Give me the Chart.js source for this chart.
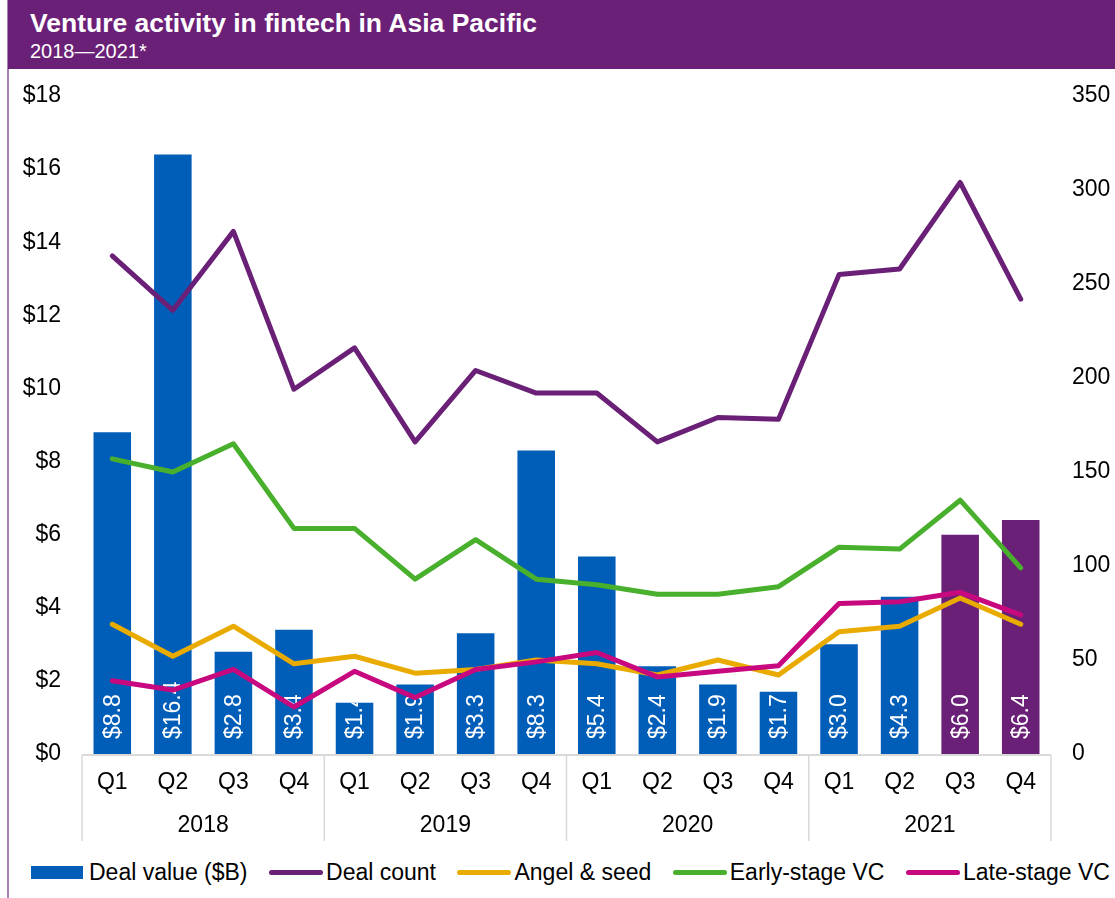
<!DOCTYPE html>
<html>
<head>
<meta charset="utf-8">
<script src="https://cdn.jsdelivr.net/npm/chart.js@4.4.1/dist/chart.umd.min.js"></script>
<style>
  html, body { margin: 0; padding: 0; background: #fff; }
  body { width: 1115px; height: 898px; position: relative; overflow: hidden; font-family: "Liberation Sans", Arial, sans-serif; }
  #faixa { position: absolute; left: 8px; top: 0; right: 0; height: 69px; background: #6B2077; color: #fff; }
  #faixa h1 { position: absolute; left: 22px; top: 8px; margin: 0; font-size: 26.5px; font-weight: bold; line-height: 30px; }
  #faixa p { position: absolute; left: 22px; top: 40px; margin: 0; font-size: 20px; line-height: 22px; }
  #borda { position: absolute; left: 7px; top: 0; width: 2px; height: 898px; background: #A77FB3; }
  #grafico { position: absolute; left: 0; top: 0; width: 1115px; height: 849px; }
  #legenda { position: absolute; left: 31px; right: 5px; top: 860px; height: 24px; display: flex; justify-content: space-between; align-items: center; font-size: 23px; color: #000; }
  #legenda .item { display: flex; align-items: center; white-space: nowrap; }
  #legenda .caixa { width: 52px; height: 13px; margin-right: 6px; }
  #legenda .linha { width: 54px; height: 5px; border-radius: 3px; margin-right: 3px; }
</style>
</head>
<body>
<div id="borda"></div>
<div id="faixa">
  <h1>Venture activity in fintech in Asia Pacific</h1>
  <p>2018—2021*</p>
</div>
<div id="grafico"><canvas id="chart"></canvas></div>
<div id="legenda"></div>

<script>
const quarters = ["Q1", "Q2", "Q3", "Q4", "Q1", "Q2", "Q3", "Q4", "Q1", "Q2", "Q3", "Q4", "Q1", "Q2", "Q3", "Q4"];
const years = ["2018", "2019", "2020", "2021"];

// $B por trimestre
const dealValue = [8.8, 16.4, 2.8, 3.4, 1.4, 1.9, 3.3, 8.3, 5.4, 2.4, 1.9, 1.7, 3.0, 4.3, 6.0, 6.4];
// contagens (eixo da direita)
const dealCount = [265, 236, 278, 194, 216, 166, 204, 192, 192, 166, 179, 178, 255, 258, 304, 242];
const angelSeed = [69, 52, 68, 48, 52, 43, 45, 50, 48, 42, 50, 42, 65, 68, 83, 69];
const earlyStage = [157, 150, 165, 120, 120, 93, 114, 93, 90, 85, 85, 89, 110, 109, 135, 99];
const lateStage = [39, 34, 45, 25, 44, 30, 45, 49, 54, 41, 44, 47, 80, 81, 86, 74];

const leftTicks = [0, 2, 4, 6, 8, 10, 12, 14, 16, 18];
const rightTicks = [0, 50, 100, 150, 200, 250, 300, 350];

const AZUL = "#005EB8";
const ROXO = "#6B2077";
const AMARELO = "#EAAB00";
const VERDE = "#48B02C";
const ROSA = "#C8087E";
const FONTE = "'Liberation Sans', Arial, sans-serif";

// os dois ultimos trimestres ficam em roxo
const barColors = dealValue.map((v, i) => i >= dealValue.length - 2 ? ROXO : AZUL);

// rotulos brancos verticais dentro das barras
const rotulosBarras = {
    id: "rotulosBarras",
    afterDatasetDraw(chart, args) {
        if (args.index !== 0) return;
        const ctx = chart.ctx;
        args.meta.data.forEach((bar, i) => {
            const p = bar.getProps(["x", "y", "base", "width"], true);
            ctx.save();
            ctx.beginPath();
            ctx.rect(p.x - p.width / 2, p.y, p.width, p.base - p.y);
            ctx.clip();
            ctx.translate(p.x, p.base - 15);
            ctx.rotate(-Math.PI / 2);
            ctx.fillStyle = "#fff";
            ctx.font = "23px " + FONTE;
            ctx.textAlign = "left";
            ctx.textBaseline = "middle";
            ctx.fillText("$" + dealValue[i].toFixed(1), 0, 1);
            ctx.restore();
        });
    }
};

// linha de base, divisorias e anos embaixo dos trimestres
const eixoAnos = {
    id: "eixoAnos",
    afterDraw(chart) {
        const { ctx, chartArea } = chart;
        const x = chart.scales.x;
        const base = chartArea.bottom + 1;
        const porAno = quarters.length / years.length;
        ctx.save();
        ctx.strokeStyle = "#D9D9D9";
        ctx.lineWidth = 2;
        ctx.beginPath();
        ctx.moveTo(chartArea.left, base);
        ctx.lineTo(chartArea.right, base);
        ctx.stroke();
        ctx.lineWidth = 1.5;
        ctx.beginPath();
        for (let g = 0; g <= years.length; g++) {
            let px;
            if (g === 0) px = chartArea.left;
            else if (g === years.length) px = chartArea.right;
            else px = (x.getPixelForValue(g * porAno - 1) + x.getPixelForValue(g * porAno)) / 2;
            ctx.moveTo(px, base);
            ctx.lineTo(px, base + 86);
        }
        ctx.stroke();
        ctx.fillStyle = "#000";
        ctx.font = "23px " + FONTE;
        ctx.textAlign = "center";
        ctx.textBaseline = "middle";
        years.forEach((ano, g) => {
            const a = x.getPixelForValue(g * porAno);
            const b = x.getPixelForValue(g * porAno + porAno - 1);
            ctx.fillText(ano, (a + b) / 2, 826);
        });
        ctx.restore();
    }
};

function linha(label, data, cor, ordem) {
    return {
        type: "line",
        label: label,
        data: data,
        yAxisID: "y1",
        borderColor: cor,
        backgroundColor: cor,
        borderWidth: 5,
        borderJoinStyle: "round",
        borderCapStyle: "round",
        pointRadius: 0,
        tension: 0,
        order: ordem
    };
}

const datasets = [
    {
        type: "bar",
        label: "Deal value ($B)",
        data: dealValue,
        yAxisID: "y",
        backgroundColor: barColors,
        barPercentage: 0.62,
        categoryPercentage: 1,
        order: 5
    },
    linha("Deal count", dealCount, ROXO, 4),
    linha("Angel & seed", angelSeed, AMARELO, 3),
    linha("Early-stage VC", earlyStage, VERDE, 2),
    linha("Late-stage VC", lateStage, ROSA, 1)
];

const ctx = document.getElementById("chart");
new Chart(ctx, {
    data: { labels: quarters, datasets: datasets },
    options: {
        responsive: true,
        maintainAspectRatio: false,
        animation: false,
        layout: { padding: { top: 96, left: 0, right: 0, bottom: 0 } },
        plugins: { legend: { display: false }, tooltip: { enabled: false } },
        scales: {
            x: {
                grid: { display: false, drawTicks: false },
                border: { display: false },
                ticks: { color: "#000", font: { family: FONTE, size: 23 }, padding: 15, maxRotation: 0, autoSkip: false },
                afterFit(s) { s.height = 95; }
            },
            y: {
                position: "left",
                min: 0,
                max: leftTicks[leftTicks.length - 1],
                grid: { display: false, drawTicks: false },
                border: { display: false },
                afterBuildTicks(s) { s.ticks = leftTicks.map(v => ({ value: v })); },
                ticks: { color: "#000", font: { family: FONTE, size: 23 }, padding: 21, callback: v => "$" + v },
                afterFit(s) { s.width = 82; }
            },
            y1: {
                position: "right",
                min: 0,
                max: rightTicks[rightTicks.length - 1],
                grid: { display: false, drawTicks: false },
                border: { display: false },
                afterBuildTicks(s) { s.ticks = rightTicks.map(v => ({ value: v })); },
                ticks: { color: "#000", font: { family: FONTE, size: 23 }, padding: 21 },
                afterFit(s) { s.width = 64; }
            }
        }
    },
    plugins: [rotulosBarras, eixoAnos]
});

// legenda montada a partir dos datasets
const legenda = document.getElementById("legenda");
datasets.forEach(ds => {
    const item = document.createElement("div");
    item.className = "item";
    const marca = document.createElement("div");
    marca.className = ds.type === "bar" ? "caixa" : "linha";
    marca.style.background = ds.type === "bar" ? AZUL : ds.borderColor;
    const texto = document.createElement("span");
    texto.textContent = ds.label;
    item.appendChild(marca);
    item.appendChild(texto);
    legenda.appendChild(item);
});
</script>
</body>
</html>
